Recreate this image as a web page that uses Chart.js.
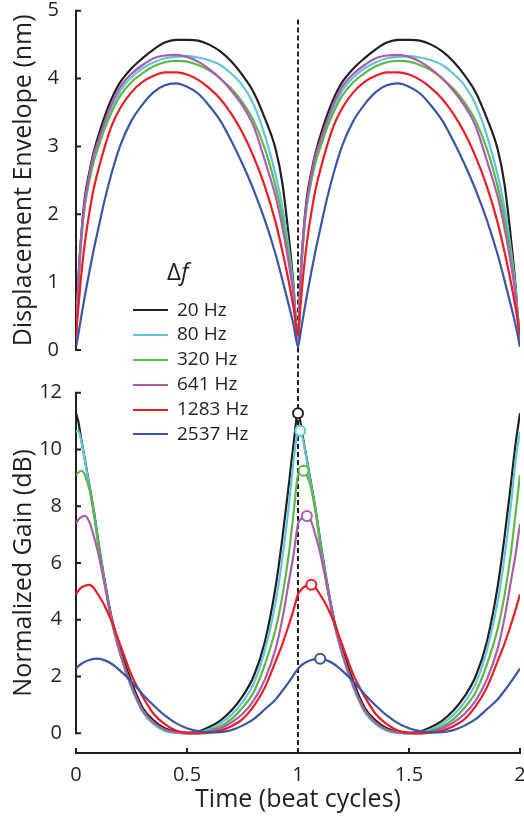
<!DOCTYPE html>
<html>
<head>
<meta charset="utf-8">
<script src="https://cdn.jsdelivr.net/npm/chart.js@4.4.0/dist/chart.umd.min.js"></script>
<style>
  body { margin: 0; background: #fff; }
  #wrap { position: relative; width: 524px; height: 817px; overflow: hidden; font-family: 'Open Sans', sans-serif; color: #231f20; }
  canvas { position: absolute; left: 0; }
  #envChart { top: 0; }
  #gainChart { top: 372px; }
  .key-head { position: absolute; left: 167px; top: 255px; font-size: 24px; line-height: 32px; }
  .key-head i { font-style: italic; }
  .key-row { position: absolute; left: 133px; height: 25px; line-height: 25px; font-size: 19px; white-space: nowrap; }
  .key-row span { display: inline-block; width: 35px; height: 2px; vertical-align: middle; margin-right: 9px; }
</style>
</head>
<body>
<div id="wrap">
  <canvas id="envChart" width="524" height="372"></canvas>
  <canvas id="gainChart" width="524" height="445"></canvas>
  <div class="key-head">&Delta;<i>f</i></div>
</div>
<script>
// time base in beat cycles, shared by both panels
var times = [0, 0.01, 0.025, 0.04, 0.06, 0.08, 0.1, 0.13, 0.16, 0.2, 0.25, 0.3, 0.35, 0.4, 0.45, 0.5, 0.55, 0.6, 0.65, 0.7, 0.75, 0.8, 0.85, 0.9, 0.93, 0.96, 0.98, 1,
  1.01, 1.025, 1.04, 1.06, 1.08, 1.1, 1.13, 1.16, 1.2, 1.25, 1.3, 1.35, 1.4, 1.45, 1.5, 1.55, 1.6, 1.65, 1.7, 1.75, 1.8, 1.85, 1.9, 1.93, 1.96, 1.98, 2];

var seriesNames = ['20 Hz', '80 Hz', '320 Hz', '641 Hz', '1283 Hz', '2537 Hz'];
var seriesColors = ['#231f20', '#62c5dd', '#5cb947', '#ad5cad', '#ec1c24', '#3a56a5'];

// displacement envelope (nm)
var envelope20 = [0.05, 1.0, 1.75, 2.25, 2.62, 2.92, 3.15, 3.45, 3.7, 3.95, 4.15, 4.3, 4.43, 4.53, 4.57, 4.57, 4.56, 4.5, 4.4, 4.25, 4.05, 3.8, 3.42, 2.95, 2.45, 1.62, 0.95, 0.05,
  1.0, 1.75, 2.25, 2.62, 2.92, 3.15, 3.45, 3.7, 3.95, 4.15, 4.3, 4.43, 4.53, 4.57, 4.57, 4.56, 4.5, 4.4, 4.25, 4.05, 3.8, 3.42, 2.95, 2.45, 1.62, 0.95, 0.05];
var envelope80 = [0.17, 0.9, 1.65, 2.12, 2.5, 2.8, 3.0, 3.3, 3.55, 3.82, 4.02, 4.15, 4.24, 4.3, 4.32, 4.33, 4.31, 4.27, 4.2, 4.07, 3.9, 3.62, 3.17, 2.57, 2.1, 1.45, 0.9, 0.17,
  0.9, 1.65, 2.12, 2.5, 2.8, 3.0, 3.3, 3.55, 3.82, 4.02, 4.15, 4.24, 4.3, 4.32, 4.33, 4.31, 4.27, 4.2, 4.07, 3.9, 3.62, 3.17, 2.57, 2.1, 1.45, 0.9, 0.17];
var envelope320 = [0.1, 0.95, 1.7, 2.15, 2.5, 2.78, 2.98, 3.27, 3.5, 3.75, 3.95, 4.08, 4.18, 4.24, 4.26, 4.25, 4.2, 4.12, 4.0, 3.85, 3.65, 3.38, 2.97, 2.4, 1.95, 1.35, 0.85, 0.1,
  0.95, 1.7, 2.15, 2.5, 2.78, 2.98, 3.27, 3.5, 3.75, 3.95, 4.08, 4.18, 4.24, 4.26, 4.25, 4.2, 4.12, 4.0, 3.85, 3.65, 3.38, 2.97, 2.4, 1.95, 1.35, 0.85, 0.1];
var envelope641 = [0.13, 0.95, 1.72, 2.2, 2.58, 2.88, 3.08, 3.37, 3.62, 3.88, 4.07, 4.2, 4.3, 4.34, 4.35, 4.32, 4.25, 4.14, 4.0, 3.82, 3.6, 3.3, 2.8, 2.25, 1.8, 1.25, 0.8, 0.13,
  0.95, 1.72, 2.2, 2.58, 2.88, 3.08, 3.37, 3.62, 3.88, 4.07, 4.2, 4.3, 4.34, 4.35, 4.32, 4.25, 4.14, 4.0, 3.82, 3.6, 3.3, 2.8, 2.25, 1.8, 1.25, 0.8, 0.13];
var envelope1283 = [0.22, 0.6, 1.15, 1.58, 2.02, 2.38, 2.65, 3.0, 3.3, 3.57, 3.8, 3.95, 4.04, 4.09, 4.09, 4.06, 3.98, 3.86, 3.7, 3.48, 3.2, 2.85, 2.42, 1.87, 1.45, 0.98, 0.62, 0.22,
  0.6, 1.15, 1.58, 2.02, 2.38, 2.65, 3.0, 3.3, 3.57, 3.8, 3.95, 4.04, 4.09, 4.09, 4.06, 3.98, 3.86, 3.7, 3.48, 3.2, 2.85, 2.42, 1.87, 1.45, 0.98, 0.62, 0.22];
var envelope2537 = [0.05, 0.22, 0.52, 0.8, 1.15, 1.48, 1.78, 2.22, 2.6, 3.02, 3.38, 3.62, 3.8, 3.9, 3.93, 3.88, 3.78, 3.6, 3.38, 3.08, 2.74, 2.36, 1.92, 1.4, 1.03, 0.64, 0.37, 0.05,
  0.22, 0.52, 0.8, 1.15, 1.48, 1.78, 2.22, 2.6, 3.02, 3.38, 3.62, 3.8, 3.9, 3.93, 3.88, 3.78, 3.6, 3.38, 3.08, 2.74, 2.36, 1.92, 1.4, 1.03, 0.64, 0.37, 0.05];

// normalized gain (dB)
var gain20 = [11.28, 11.0, 10.3, 9.65, 8.75, 7.85, 6.8, 5.35, 4.1, 2.95, 1.8, 0.9, 0.45, 0.18, 0.06, 0.02, 0.06, 0.22, 0.45, 0.8, 1.3, 2.0, 3.2, 5.2, 6.9, 8.85, 10.2, 11.28,
  11.0, 10.3, 9.65, 8.75, 7.85, 6.8, 5.35, 4.1, 2.95, 1.8, 0.9, 0.45, 0.18, 0.06, 0.02, 0.06, 0.22, 0.45, 0.8, 1.3, 2.0, 3.2, 5.2, 6.9, 8.85, 10.2, 11.28];
var gain80 = [10.62, 10.66, 10.25, 9.6, 8.7, 7.8, 6.7, 5.25, 3.95, 2.75, 1.6, 0.75, 0.32, 0.09, 0.01, 0.0, 0.03, 0.14, 0.35, 0.65, 1.1, 1.75, 2.9, 4.65, 6.2, 8.1, 9.6, 10.62,
  10.66, 10.25, 9.6, 8.7, 7.8, 6.7, 5.25, 3.95, 2.75, 1.6, 0.75, 0.32, 0.09, 0.01, 0.0, 0.03, 0.14, 0.35, 0.65, 1.1, 1.75, 2.9, 4.65, 6.2, 8.1, 9.6, 10.62];
var gain320 = [9.1, 9.18, 9.25, 9.1, 8.6, 7.75, 6.65, 5.25, 4.0, 2.8, 1.65, 0.8, 0.36, 0.11, 0.03, 0.0, 0.02, 0.1, 0.25, 0.5, 0.9, 1.45, 2.4, 3.7, 4.85, 6.4, 7.75, 9.1,
  9.18, 9.25, 9.1, 8.6, 7.75, 6.65, 5.25, 4.0, 2.8, 1.65, 0.8, 0.36, 0.11, 0.03, 0.0, 0.02, 0.1, 0.25, 0.5, 0.9, 1.45, 2.4, 3.7, 4.85, 6.4, 7.75, 9.1];
var gain641 = [7.38, 7.52, 7.62, 7.66, 7.45, 6.95, 6.35, 5.2, 4.0, 2.8, 1.65, 0.82, 0.38, 0.13, 0.03, 0.0, 0.0, 0.06, 0.18, 0.38, 0.68, 1.15, 1.88, 3.0, 4.05, 5.4, 6.3, 7.38,
  7.52, 7.62, 7.66, 7.45, 6.95, 6.35, 5.2, 4.0, 2.8, 1.65, 0.82, 0.38, 0.13, 0.03, 0.0, 0.0, 0.06, 0.18, 0.38, 0.68, 1.15, 1.88, 3.0, 4.05, 5.4, 6.3, 7.38];
var gain1283 = [4.9, 5.02, 5.14, 5.2, 5.23, 5.12, 4.88, 4.48, 3.95, 3.1, 2.05, 1.3, 0.68, 0.32, 0.1, 0.02, 0.0, 0.02, 0.1, 0.25, 0.5, 0.95, 1.6, 2.55, 3.15, 3.85, 4.35, 4.9,
  5.02, 5.14, 5.2, 5.23, 5.12, 4.88, 4.48, 3.95, 3.1, 2.05, 1.3, 0.68, 0.32, 0.1, 0.02, 0.0, 0.02, 0.1, 0.25, 0.5, 0.95, 1.6, 2.55, 3.15, 3.85, 4.35, 4.9];
var gain2537 = [2.28, 2.36, 2.45, 2.52, 2.58, 2.62, 2.63, 2.57, 2.45, 2.2, 1.82, 1.38, 0.98, 0.63, 0.36, 0.18, 0.08, 0.03, 0.04, 0.11, 0.27, 0.5, 0.84, 1.2, 1.5, 1.82, 2.05, 2.28,
  2.36, 2.45, 2.52, 2.58, 2.62, 2.63, 2.57, 2.45, 2.2, 1.82, 1.38, 0.98, 0.63, 0.36, 0.18, 0.08, 0.03, 0.04, 0.11, 0.27, 0.5, 0.84, 1.2, 1.5, 1.82, 2.05, 2.28];

// gain maxima just after the second beat
var peakTimes = [1, 1.01, 1.025, 1.04, 1.06, 1.1];
var peakGains = [11.28, 10.66, 9.25, 7.66, 5.23, 2.63];

var timeTicks = [0, 0.5, 1, 1.5, 2];
var envelopeTicks = [0, 1, 2, 3, 4, 5];
var gainTicks = [0, 2, 4, 6, 8, 10, 12];
var markerTime = 1;

var ink = '#231f20';
var family = "'Open Sans', sans-serif";

// axis spine + inward ticks + dashed beat marker, drawn under the curves
var panelMarks = {
  id: 'panelMarks',
  beforeDatasetsDraw: function(chart, args, opts) {
    var ctx = chart.ctx, x = chart.scales.x, y = chart.scales.y;
    var x0 = x.getPixelForValue(0);
    ctx.save();
    ctx.strokeStyle = ink;
    ctx.lineWidth = 2;
    ctx.beginPath();
    ctx.moveTo(x0, y.getPixelForValue(opts.spine[0]) + 1);
    ctx.lineTo(x0, y.getPixelForValue(opts.spine[1]) - 1);
    y.ticks.forEach(function(t) {
      var py = y.getPixelForValue(t.value);
      ctx.moveTo(x0 - 1, py);
      ctx.lineTo(x0 + 5, py);
    });
    ctx.stroke();
    if (opts.timeAxis) {
      var by = chart.chartArea.bottom;
      ctx.beginPath();
      ctx.moveTo(x.getPixelForValue(0) - 1, by);
      ctx.lineTo(x.getPixelForValue(2) + 1, by);
      x.ticks.forEach(function(t) {
        var px = x.getPixelForValue(t.value);
        ctx.moveTo(px, by + 1);
        ctx.lineTo(px, by - 5);
      });
      ctx.stroke();
    }
    var mx = x.getPixelForValue(markerTime);
    var top = opts.dashFrom == null ? 0 : y.getPixelForValue(opts.dashFrom);
    var bottom = opts.timeAxis ? chart.chartArea.bottom : chart.height;
    ctx.setLineDash([5, 3]);
    ctx.beginPath();
    ctx.moveTo(mx, top);
    ctx.lineTo(mx, bottom);
    ctx.stroke();
    ctx.restore();
  }
};

function lineSets(series) {
  return series.map(function(values, i) {
    return {
      label: seriesNames[i],
      data: values.map(function(v, k) { return { x: times[k], y: v }; }),
      borderColor: seriesColors[i],
      borderWidth: 2.2,
      pointRadius: 0,
      cubicInterpolationMode: 'monotone',
      order: series.length - i
    };
  });
}

function yAxis(min, max, ticks, title, pad) {
  return {
    min: min, max: max,
    afterBuildTicks: function(s) { s.ticks = ticks.map(function(v) { return { value: v }; }); },
    afterFit: function(s) { s.width = 76; s.paddingTop = 0; s.paddingBottom = 0; },
    grid: { display: false },
    border: { display: false },
    ticks: { color: ink, font: { family: family, size: 20 }, padding: pad },
    title: { display: true, text: title, color: ink, font: { family: family, size: 25 }, padding: { top: 9 } }
  };
}

var common = {
  responsive: false,
  animation: false,
  events: [],
  plugins: { legend: { display: false }, tooltip: { enabled: false } }
};

var envelopeSeries = [envelope20, envelope80, envelope320, envelope641, envelope1283, envelope2537];
var gainSeries = [gain20, gain80, gain320, gain641, gain1283, gain2537];

new Chart(document.getElementById('envChart'), {
  type: 'line',
  data: { datasets: lineSets(envelopeSeries) },
  options: Object.assign({}, common, {
    layout: { autoPadding: false, padding: { left: 0, right: 4, top: 10.7, bottom: 22 } },
    scales: {
      x: { type: 'linear', min: 0, max: 2, display: false },
      y: yAxis(0, 5, envelopeTicks, 'Displacement Envelope (nm)', 9)
    },
    plugins: Object.assign({}, common.plugins, { panelMarks: { spine: [0, 5], dashFrom: 4.87, timeAxis: false } })
  }),
  plugins: [panelMarks]
});

var gainSets = lineSets(gainSeries);
gainSets.push({
  type: 'scatter',
  data: peakTimes.map(function(t, i) { return { x: t, y: peakGains[i] }; }),
  pointRadius: 5,
  pointBorderWidth: 2,
  pointBorderColor: seriesColors,
  pointBackgroundColor: '#fff',
  showLine: false,
  order: -1
});

new Chart(document.getElementById('gainChart'), {
  type: 'line',
  data: { datasets: gainSets },
  options: Object.assign({}, common, {
    layout: { autoPadding: false, padding: { left: 0, right: 4, top: 20.7, bottom: 0 } },
    scales: {
      x: {
        type: 'linear', min: 0, max: 2,
        afterBuildTicks: function(s) { s.ticks = timeTicks.map(function(v) { return { value: v }; }); },
        afterFit: function(s) { s.height = 64; s.paddingLeft = 0; s.paddingRight = 0; },
        grid: { display: false },
        border: { display: false },
        ticks: { color: ink, font: { family: family, size: 20 }, padding: 2, maxRotation: 0,
                 callback: function(v) { return String(v); } },
        title: { display: true, text: 'Time (beat cycles)', color: ink, font: { family: family, size: 25 }, padding: { top: 0, bottom: 2 } }
      },
      y: yAxis(-0.694, 12, gainTicks, 'Normalized Gain (dB)', 6)
    },
    plugins: Object.assign({}, common.plugins, { panelMarks: { spine: [0, 12], dashFrom: null, timeAxis: true } })
  }),
  plugins: [panelMarks]
});

// legend rows
var wrap = document.getElementById('wrap');
seriesNames.forEach(function(name, i) {
  var row = document.createElement('div');
  row.className = 'key-row';
  row.style.top = (296.5 + i * 24.8) + 'px';
  var swatch = document.createElement('span');
  swatch.style.background = seriesColors[i];
  row.appendChild(swatch);
  row.appendChild(document.createTextNode(name));
  wrap.appendChild(row);
});
</script>
</body>
</html>
